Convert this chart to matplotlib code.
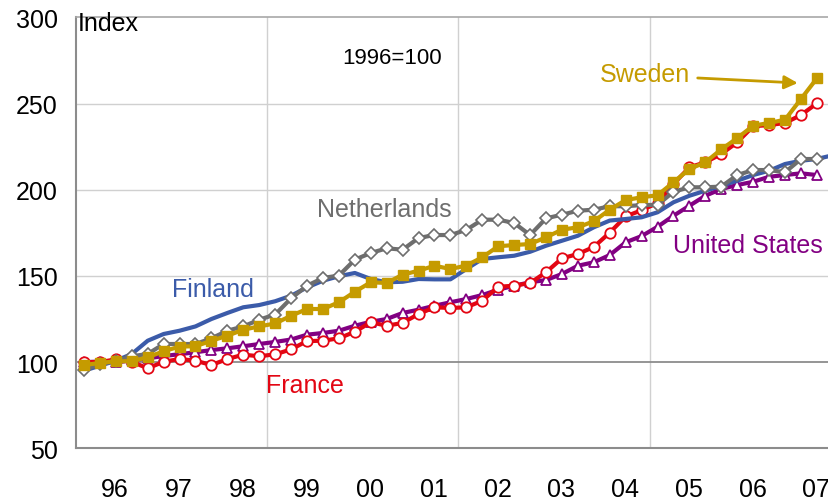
# -*- coding: utf-8 -*-
from matplotlib import pyplot as plt
import numpy as np

# quarterly house price index, 1996 = 100, 96Q1 .. 07Q3
sweden = [98.3, 99.5, 100.5, 100.5, 102.8, 106.3, 109.0, 109.2, 112.4, 115.3,
          118.8, 120.7, 122.4, 126.9, 130.8, 130.8, 134.7, 140.8, 146.3, 145.9,
          150.7, 153.0, 155.9, 154.0, 156.0, 160.8, 167.2, 167.9, 168.5, 172.4,
          176.8, 178.2, 181.7, 188.4, 194.0, 195.6, 196.8, 204.3, 212.0, 215.9,
          223.4, 229.9, 237.1, 238.7, 240.6, 252.6, 264.6]
netherlands = [95.5, 99.0, 100.5, 103.4, 104.7, 110.5, 110.5, 110.5, 113.8, 118.2,
               120.7, 124.6, 127.6, 137.0, 144.3, 148.8, 150.2, 159.4, 163.3, 166.0,
               165.2, 172.0, 173.7, 173.7, 176.7, 182.6, 182.6, 180.7, 173.7, 183.4,
               185.5, 187.8, 188.4, 190.4, 190.4, 191.1, 191.2, 198.8, 201.4, 201.4,
               201.8, 208.5, 211.4, 211.4, 210.1, 217.8, 217.8]
france = [100.0, 100.0, 101.6, 100.2, 96.4, 100.2, 101.8, 100.8, 98.3, 101.8,
          104.3, 103.4, 104.5, 107.4, 112.2, 112.4, 113.8, 117.6, 123.1, 121.1,
          122.7, 127.9, 131.8, 131.4, 131.8, 135.6, 143.7, 144.3, 145.9, 152.1,
          160.2, 162.7, 166.8, 175.1, 184.5, 188.1, 192.3, 203.3, 213.0, 215.9,
          220.7, 227.5, 236.8, 237.5, 238.7, 243.3, 250.1]
us = [100.0, 100.3, 99.8, 101.0, 102.2, 103.5, 104.6, 105.7, 107.0, 108.0,
      109.2, 110.5, 111.7, 113.1, 115.9, 116.9, 118.2, 121.1, 123.4, 125.0,
      128.5, 130.4, 132.7, 134.7, 136.6, 138.9, 142.0, 144.3, 146.3, 147.6,
      151.1, 155.9, 157.9, 162.1, 169.5, 173.1, 178.5, 184.9, 190.7, 196.5,
      200.4, 202.7, 204.6, 207.5, 208.5, 209.5, 208.5]
# finland runs one quarter further (cut off by the frame)
finland = [95.0, 97.9, 100.8, 104.7, 112.4, 116.3, 118.2, 120.7, 125.0, 128.5,
           131.8, 133.1, 135.3, 138.5, 143.3, 147.2, 149.8, 151.7, 148.2, 146.3,
           146.6, 148.2, 148.0, 148.0, 154.0, 159.8, 160.8, 161.7, 164.0, 167.5,
           170.4, 173.3, 178.2, 182.1, 183.0, 184.0, 186.9, 192.7, 196.5, 199.4,
           202.3, 205.2, 208.5, 211.0, 214.9, 216.8, 217.8, 220.0]
years = list(range(1996, 2008))
year_labels = ['96', '97', '98', '99', '00', '01', '02', '03', '04', '05', '06', '07']

plt.rcParams['font.family'] = ['Liberation Sans', 'DejaVu Sans']

gold = '#C59B00'
red = '#E30613'
grey = '#6E6E6E'
blue = '#3B5BA9'
purple = '#820082'

# quarter positions as fractional years
def qx(vals):
    return 1996 + np.arange(len(vals)) / 4.0

fig = plt.figure(figsize=(8.29, 5.02), dpi=100)
ax = fig.add_axes([76/829, 1 - 449.3/502, (829 - 76)/829, (449.3 - 18.3)/502])

# grid: light lines, darker one at 100
for v in [150, 200, 250]:
    ax.axhline(v, color='#d0d0d0', lw=1, zorder=0)
for v in [1998.875, 2001.875, 2004.875]:
    ax.axvline(v, color='#d0d0d0', lw=1, zorder=0)
ax.axhline(100, color='#8c8c8c', lw=1.3, zorder=0.5)

ax.plot(qx(us), us, color=purple, lw=3, marker='^', ms=7.5,
        mfc='white', mec=purple, mew=1.3, zorder=2)
ax.plot(qx(france), france, color=red, lw=3, marker='o', ms=7.5,
        mfc='white', mec=red, mew=1.3, zorder=3)
ax.plot(qx(finland), finland, color=blue, lw=3, zorder=4)
ax.plot(qx(netherlands), netherlands, color=grey, lw=3, marker='D', ms=6,
        mfc='white', mec=grey, mew=1.2, zorder=5)
ax.plot(qx(sweden), sweden, color=gold, lw=3, marker='s', ms=7.5,
        mfc=gold, mec=gold, zorder=6)

ax.set_xlim(1995.875, 2007.69)
ax.set_ylim(50, 300)
ax.set_yticks([50, 100, 150, 200, 250, 300])
ax.set_xticks([y + 0.49 for y in years])
ax.set_xticklabels(year_labels)
ax.tick_params(axis='both', length=0, labelsize=18)
ax.tick_params(axis='x', pad=21)
ax.tick_params(axis='y', pad=13)

for side in ['left', 'bottom']:
    ax.spines[side].set_color('#8c8c8c')
    ax.spines[side].set_linewidth(1.5)
ax.spines['top'].set_color('#a8a8a8')
ax.spines['top'].set_linewidth(1.2)
ax.spines['right'].set_visible(False)

# labels on the chart
fs = 18
ax.text(1995.906, 292.8, 'Index', fontsize=fs, ha='left', va='baseline')
ax.text(2000.83, 276.5, '1996=100', fontsize=16, ha='center', va='center')
ax.text(2000.71, 188.9, 'Netherlands', fontsize=fs, color=grey, ha='center', va='center')
ax.text(1998.02, 142.4, 'Finland', fontsize=fs, color=blue, ha='center', va='center')
ax.text(1999.47, 86.8, 'France', fontsize=fs, color=red, ha='center', va='center')
ax.text(2006.42, 168, 'United States', fontsize=fs, color=purple, ha='center', va='center')
ax.text(2004.8, 267.1, 'Sweden', fontsize=fs, color=gold, ha='center', va='center')
ax.annotate('', xy=(2007.2, 261.9), xytext=(2005.63, 264.8),
            arrowprops=dict(arrowstyle='-|>', color=gold, lw=2, mutation_scale=20,
                            shrinkA=0, shrinkB=0))

fig.savefig('out.png', dpi=100)
